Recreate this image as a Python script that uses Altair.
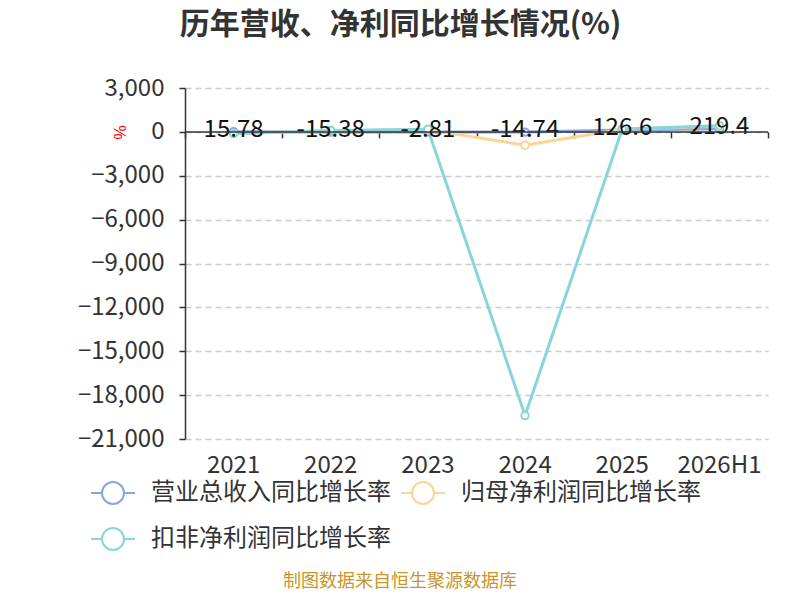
import altair as alt
import pandas as pd

categories = ["2021", "2022", "2023", "2024", "2025", "2026H1"]
series_names = ["营业总收入同比增长率", "归母净利润同比增长率", "扣非净利润同比增长率"]
revenue = [15.78, -15.38, -2.81, -14.74, 126.6, 219.4]
net_profit = [-100, 80, 150, -910, 180, 380]
deducted = [-120, 100, 180, -19400, 200, 420]
colors = ["#8aa6df", "#fcd595", "#88d5da"]
y_ticks = [3000, 0, -3000, -6000, -9000, -12000, -15000, -18000, -21000]

# legend lays entries out column by column: order so that rows read as in the reference
legend_order = [series_names[0], series_names[2], series_names[1]]
legend_colors = [colors[0], colors[2], colors[1]]

rows = []
for s, vals in zip(series_names, [revenue, net_profit, deducted]):
    for i, (c, v) in enumerate(zip(categories, vals)):
        rows.append({"category": c, "series": s, "value": v, "order": i})
df = pd.DataFrame(rows)
lab = pd.DataFrame({"category": categories, "value": revenue, "label": [str(v) for v in revenue]})

FONT = "Noto Sans CJK SC"
W, H = 583, 351
ymin, ymax = -21000, 3000
zero_offset = -(H - (ymax / (ymax - ymin)) * H)

legend_path = "M-1,0L-0.5,0M0.5,0L1,0M-0.5,0A0.5,0.5 0 1 1 0.5,0A0.5,0.5 0 1 1 -0.5,0Z"

xenc = alt.X("category:N", sort=categories,
             scale=alt.Scale(type="band", paddingInner=0, paddingOuter=0),
             axis=alt.Axis(title=None, domain=False, ticks=False, grid=False,
                           labelFontSize=24, labelColor="#333", labelFont=FONT,
                           labelPadding=14, labelAngle=0, orient="bottom"))
yenc = alt.Y("value:Q", scale=alt.Scale(domain=[ymin, ymax], nice=False, zero=False),
             axis=alt.Axis(title="%", titleColor="red", titleFontSize=16, titleFontWeight="normal",
                           titleX=-65, titleY=H * ymax / (ymax - ymin), titleAngle=270,
                           titleAlign="center", titleBaseline="middle",
                           values=y_ticks, format=",.0f", labelFontSize=24, labelColor="#333",
                           labelFont=FONT, labelPadding=15,
                           domainColor="#333", domainWidth=1.5, tickColor="#333", tickSize=6,
                           tickWidth=1.5, grid=True, gridDash=[6, 4], gridColor="#cccccc",
                           gridWidth=1.5))
stroke = alt.Stroke("series:N",
                    scale=alt.Scale(domain=legend_order, range=legend_colors),
                    legend=alt.Legend(title=None, orient="none", legendX=-95, legendY=382,
                                      columns=2, columnPadding=6, rowPadding=8,
                                      symbolType=legend_path, symbolSize=1936,
                                      symbolStrokeWidth=2, symbolFillColor="white",
                                      labelFontSize=24, labelFont=FONT, labelColor="#333",
                                      labelOffset=15, labelLimit=400, padding=0))

lines = alt.Chart(df).mark_line(strokeWidth=3).encode(
    x=xenc, y=yenc, stroke=stroke, order="order:Q", detail="series:N")
points = alt.Chart(df).mark_point(shape="circle", filled=True, fill="white", size=55,
                                  strokeWidth=2, opacity=1).encode(
    x=xenc, y=yenc, stroke=stroke)
texts = alt.Chart(lab).mark_text(fontSize=24, font=FONT, color="#111", baseline="middle",
                                 dy=-2).encode(
    x=xenc, y=yenc, text="label:N")

main = alt.layer(lines, points, texts)

zero_axis = alt.Chart(pd.DataFrame({"a": [0]})).mark_rule(color="#333", strokeWidth=1.5).encode(
    x=alt.X(datum=0, type="quantitative",
            scale=alt.Scale(domain=[0, len(categories)], nice=False, zero=False),
            axis=alt.Axis(title=None, orient="bottom", offset=zero_offset, labels=False,
                          grid=False, domain=False, ticks=True, tickSize=6, tickColor="#333",
                          tickWidth=1.5, values=list(range(len(categories) + 1)))),
    x2=alt.X2(datum=len(categories)),
    y=alt.Y(datum=0, type="quantitative"),
)

footer = alt.Chart(pd.DataFrame({"t": ["制图数据来自恒生聚源数据库"]})).mark_text(
    fontSize=18, font=FONT, color="#c9952b", align="center", baseline="middle").encode(
    x=alt.value(215), y=alt.value(494), text="t:N")

chart = alt.layer(main, zero_axis, footer).resolve_scale(x="independent").properties(
    width=W, height=H,
    title=alt.Title("历年营收、净利同比增长情况(%)", fontSize=30, font=FONT, fontWeight="bold",
                    color="#333", anchor="middle", dx=-76, offset=36),
    autosize=alt.AutoSizeParams(type="none"),
    padding={"left": 177, "top": 80, "right": 24, "bottom": 153},
).configure_view(stroke=None)

chart.save("out.html", embed_options={"renderer": "svg", "actions": False})
